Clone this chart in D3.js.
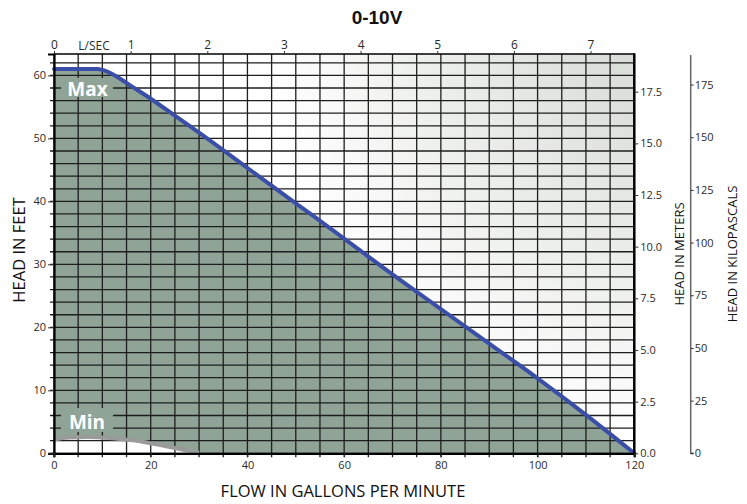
<!DOCTYPE html>
<html><head><meta charset="utf-8">
<script src="https://cdn.jsdelivr.net/npm/d3@7"></script>
<style>body{margin:0;background:#fff}svg{display:block}text{font-family:"Open Sans",sans-serif}</style>
</head><body>
<svg id="chart" width="747" height="504"></svg>
<script>
const title = "0-10V";
const gpmTicks = [0,20,40,60,80,100,120];
const feetTicks = [0,10,20,30,40,50,60];
const meterTicks = [0,2.5,5,7.5,10,12.5,15,17.5];
const kpaTicks = [0,25,50,75,100,125,150,175];
const lsecTicks = [0,1,2,3,4,5,6,7];
const maxGpm  = [0,9,11,13,16,20,25,30,40,50,60,70,80,90,100,110,120];
const maxFeet = [61,61,60.6,59.8,58.3,56.3,53.6,50.9,45.3,39.7,34.1,28.4,22.9,17.4,11.9,6.1,0];
const minGpm  = [0,3,7,12,16,20,25,30];
const minFeet = [2.2,2.5,2.6,2.4,2.1,1.6,0.85,0.05];

const svg = d3.select("#chart");
const L=54, R=634.3, T=54, B=453.3;
const ftTop = 63.4;
const x = d3.scaleLinear([0,120],[L,R]);
const yFt = d3.scaleLinear([0,ftTop],[B,T]);
const yM = d3.scaleLinear([0,ftTop/3.28084],[B,T]);
const yK = d3.scaleLinear([0,ftTop*2.98898],[B,T]);
const xLs = d3.scaleLinear([0,120/15.8503],[L,R]);

const defs = svg.append("defs");
const rg = defs.append("radialGradient").attr("id","bg").attr("gradientUnits","userSpaceOnUse")
  .attr("cx",690).attr("cy",20).attr("r",430);
rg.append("stop").attr("offset","0").attr("stop-color","#d3d8d2");
rg.append("stop").attr("offset","0.35").attr("stop-color","#e1e4e0");
rg.append("stop").attr("offset","1").attr("stop-color","#ffffff");

svg.append("rect").attr("x",L).attr("y",T).attr("width",R-L).attr("height",B-T).attr("fill","url(#bg)");

const fillCol = "#8fa396";
const maxPts = maxGpm.map((g,i)=>[g,maxFeet[i]]);
const minPts = minGpm.map((g,i)=>[g,minFeet[i]]);
const area = d3.area().x(d=>x(d[0])).y0(B).y1(d=>yFt(d[1])).curve(d3.curveMonotoneX);
svg.append("path").attr("d",area(maxPts)).attr("fill",fillCol);
svg.append("path").attr("d",area(minPts)).attr("fill","#fff");

// grid
const g = svg.append("g").attr("stroke","#1e1e1e").attr("stroke-width",1.3);
d3.range(0,63,2).forEach(f=>{
  g.append("line").attr("x1",L-4).attr("x2",R).attr("y1",yFt(f)).attr("y2",yFt(f));
});
d3.range(0,121,5).forEach(v=>{
  g.append("line").attr("x1",x(v)).attr("x2",x(v)).attr("y1",T).attr("y2",B+4);
});

// labels Max / Min
function label(txt, bx, by, bw, bh, tx, ty){
  svg.append("rect").attr("x",bx).attr("y",by).attr("width",bw).attr("height",bh).attr("fill",fillCol);
  svg.append("text").attr("x",tx).attr("y",ty).attr("text-anchor","middle").attr("fill","#fff")
    .attr("font-weight","bold").attr("font-size",19).text(txt);
}
label("Max", 61, 78, 52, 19, 87.5, 95.5);
label("Min", 61, 408, 52, 24, 87, 428.5);

const line = d3.line().x(d=>x(d[0])).y(d=>yFt(d[1])).curve(d3.curveMonotoneX);
svg.append("path").attr("d",line(minPts)).attr("fill","none").attr("stroke","#9a9a9a").attr("stroke-width",4);
svg.append("path").attr("d",line(maxPts)).attr("fill","none").attr("stroke","#3a4ea8").attr("stroke-width",4).attr("stroke-linecap","round");

// borders
svg.append("line").attr("x1",L).attr("x2",R).attr("y1",T).attr("y2",T).attr("stroke","#000").attr("stroke-width",1.5);
svg.append("line").attr("x1",R).attr("x2",R).attr("y1",T-0.7).attr("y2",B+1).attr("stroke","#000").attr("stroke-width",2.5);

// axes
const tickText = s=>s.selectAll("text").attr("fill","#2a2a2a").style("font-family","'Open Sans',sans-serif");
const axL = svg.append("g").attr("transform",`translate(${L},0)`)
  .call(d3.axisLeft(yFt).tickValues(feetTicks).tickSize(6).tickPadding(2).tickFormat(d3.format("d")));
const axB = svg.append("g").attr("transform",`translate(0,${B})`)
  .call(d3.axisBottom(x).tickValues(gpmTicks).tickSize(4).tickPadding(4).tickFormat(d3.format("d")));
const axT = svg.append("g").attr("transform",`translate(0,${T})`)
  .call(d3.axisTop(xLs).tickValues(lsecTicks).tickSize(3).tickPadding(2).tickFormat(d3.format("d")));
const axM = svg.append("g").attr("transform",`translate(${R},0)`)
  .call(d3.axisRight(yM).tickValues(meterTicks).tickSize(4).tickPadding(2).tickFormat(d3.format(".1f")));
const axK = svg.append("g").attr("transform",`translate(690.7,0)`)
  .call(d3.axisRight(yK).tickValues(kpaTicks).tickSize(3).tickPadding(1).tickFormat(d3.format("d")));
[axL,axB,axT,axM,axK].forEach(a=>{
  a.attr("font-size",11); tickText(a);
  a.selectAll(".tick line").attr("stroke","#333");
});
axT.attr("font-size",12);
axL.select(".domain").attr("stroke","#000").attr("stroke-width",2.2);
axB.select(".domain").attr("stroke","#000").attr("stroke-width",2.2);
axT.select(".domain").remove();
axM.select(".domain").remove();
axK.select(".domain").attr("stroke","#666").attr("stroke-width",1.5).attr("d",`M0,${T+1}V${B}H3`);

svg.append("text").attr("x",94).attr("y",50).attr("text-anchor","middle").attr("font-size",12).attr("fill","#2a2a2a").text("L/SEC");

// titles
svg.append("text").attr("x",377).attr("y",23.5).attr("text-anchor","middle").attr("font-size",19)
  .attr("font-weight","bold").style("font-family","'Liberation Sans',Arial,sans-serif").attr("fill","#111").text(title);
svg.append("text").attr("transform","translate(25,250) rotate(-90)").attr("text-anchor","middle")
  .attr("font-size",16.5).attr("fill","#111").text("HEAD IN FEET");
svg.append("text").attr("x",343).attr("y",497).attr("text-anchor","middle")
  .attr("font-size",16.5).attr("fill","#111").text("FLOW IN GALLONS PER MINUTE");
svg.append("text").attr("transform","translate(684,254) rotate(-90)").attr("text-anchor","middle")
  .attr("font-size",13).attr("fill","#111").text("HEAD IN METERS");
svg.append("text").attr("transform","translate(736.5,254) rotate(-90)").attr("text-anchor","middle")
  .attr("font-size",13).attr("fill","#111").text("HEAD IN KILOPASCALS");
</script>
</body></html>
